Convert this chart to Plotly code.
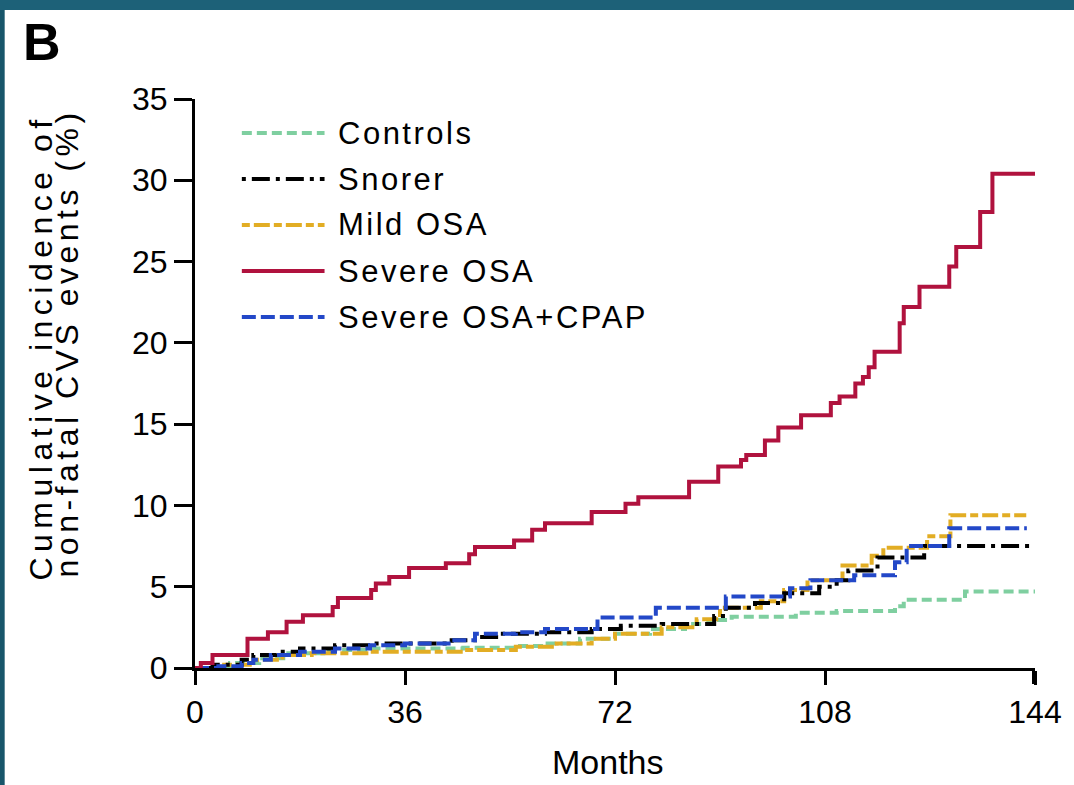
import plotly.graph_objects as go

# Cumulative incidence (%) step curves: event months and the level reached there
months_controls = [0, 6, 11, 16, 22, 30, 46, 55, 60, 66, 72, 78, 84, 88, 92, 103, 110, 120, 121.5, 132, 144]
cum_controls = [0, 0.3, 0.6, 0.9, 1.1, 1.2, 1.25, 1.35, 1.5, 1.8, 2.1, 2.4, 2.7, 2.95, 3.15, 3.4, 3.5, 3.8, 4.2, 4.7, 4.7]

months_snorer = [0, 3, 8, 10, 14, 18, 24, 30, 44, 48, 52, 60, 68, 73, 80, 89, 91, 96, 101, 107, 110, 112, 117, 125, 144]
cum_snorer = [0, 0.2, 0.5, 0.8, 1.0, 1.2, 1.4, 1.5, 1.7, 1.9, 2.1, 2.2, 2.4, 2.6, 2.7, 3.2, 3.7, 4.0, 4.6, 5.0, 5.4, 6.0, 6.8, 7.5, 7.5]

months_mild = [0, 5, 10, 15, 20, 30, 46, 55, 62, 68, 72, 80, 86, 90, 97, 101, 105, 111, 116, 118, 125.5, 129.5, 142.5]
cum_mild = [0, 0.2, 0.5, 0.8, 0.9, 1.0, 1.1, 1.3, 1.5, 1.8, 2.1, 2.5, 3.0, 3.7, 4.1, 4.8, 5.4, 6.3, 6.9, 7.4, 8.1, 9.4, 9.4]

months_severe = [0, 1, 3, 9, 12.5, 15.7, 18.5, 23.6, 24.5, 30.2, 31, 33.3, 36.7, 43, 47, 48, 54.7, 57.8, 60,
                 68, 73.8, 76, 84.7, 89.7, 93.6, 94.5, 97.7, 100, 103.9, 109, 110.5, 113.2, 114.5, 115.5,
                 116.5, 120.8, 121.5, 124.2, 129.3, 130.5, 134.6, 136.7, 144]
cum_severe = [0, 0.3, 0.8, 1.8, 2.2, 2.85, 3.25, 3.75, 4.3, 4.8, 5.2, 5.6, 6.15, 6.45, 7.0, 7.45, 7.85, 8.5, 8.9,
              9.6, 10.1, 10.5, 11.45, 12.4, 12.8, 13.1, 14.0, 14.8, 15.55, 16.3, 16.7, 17.5, 17.9, 18.5,
              19.45, 21.2, 22.2, 23.45, 24.7, 25.9, 28.05, 30.4, 30.4]

months_cpap = [0, 4, 8, 10, 13, 18, 24, 30, 36, 44, 48, 55, 60, 69, 79, 91, 102, 105.5, 113, 120, 122, 129.3, 142.6]
cum_cpap = [0, 0.1, 0.3, 0.5, 0.8, 1.0, 1.2, 1.4, 1.5, 1.7, 2.1, 2.2, 2.4, 3.1, 3.7, 4.4, 4.9, 5.4, 5.7, 6.5, 7.5, 8.6, 8.6]

x_ticks = [0, 36, 72, 108, 144]
y_ticks = [0, 5, 10, 15, 20, 25, 30, 35]

series = [
    ("Controls", months_controls, cum_controls, "#7fcfa0", "10px,5px"),
    ("Snorer", months_snorer, cum_snorer, "#000000", "4px,6px,18px,6px"),
    ("Mild OSA", months_mild, cum_mild, "#e2ad24", "8px,4px,16px,4px"),
    ("Severe OSA", months_severe, cum_severe, "#b0123e", "solid"),
    ("Severe OSA+CPAP", months_cpap, cum_cpap, "#2348c8", "14px,5px"),
]

FONT = "Liberation Sans, Arial, sans-serif"

# plot-area pixel geometry used to place decorations in paper coordinates
L, R, T, B = 195, 1038, 99, 668
def px_x(px):
    return (px - L) / (R - L)
def px_y(py):
    return (B - py) / (B - T)

def spaced(text, px):
    return f'<span style="letter-spacing:{px}px">{text}</span>'

fig = go.Figure()
draw_order = [0, 2, 1, 4, 3]
for i in draw_order:
    name, xs, ys, color, dash = series[i]
    fig.add_trace(go.Scatter(
        x=xs, y=ys, mode="lines", name=name, line_shape="hv",
        line=dict(color=color, width=4, dash=dash), showlegend=False,
    ))

shapes = []
annotations = []

# legend drawn as line samples plus labels
for i, (name, xs, ys, color, dash) in enumerate(series):
    yy = px_y(133 + 46 * i)
    shapes.append(dict(type="line", xref="paper", yref="paper",
                       x0=px_x(242), x1=px_x(325), y0=yy, y1=yy,
                       line=dict(color=color, width=4, dash=dash)))
    annotations.append(dict(text=spaced(name, 2.5), xref="paper", yref="paper",
                            x=px_x(337), y=yy, xanchor="left", yanchor="middle",
                            showarrow=False, font=dict(size=31, color="black", family=FONT)))

# frame bands
shapes.append(dict(type="rect", xref="paper", yref="paper", layer="above",
                   x0=-0.3, x1=1.1, y0=px_y(10), y1=px_y(-20),
                   fillcolor="#1d6178", line=dict(width=0)))
shapes.append(dict(type="rect", xref="paper", yref="paper", layer="above",
                   x0=-0.3, x1=px_x(4), y0=px_y(800), y1=px_y(10),
                   fillcolor="#18566a", line=dict(width=0)))

# thicker cap at the end of the x axis
shapes.append(dict(type="line", xref="x", yref="paper", x0=144, x1=144,
                   y0=px_y(668), y1=px_y(684), line=dict(color="black", width=6)))

# panel letter
annotations.append(dict(text="<b>B</b>", xref="paper", yref="paper",
                        x=px_x(20), y=px_y(42), xanchor="left", yanchor="middle",
                        showarrow=False, font=dict(size=52, color="black", family=FONT)))

# axis titles
annotations.append(dict(text="Months", xref="paper", yref="paper",
                        x=px_x(609), y=px_y(762), xanchor="center", yanchor="middle",
                        showarrow=False, font=dict(size=34, color="black", family=FONT)))
annotations.append(dict(text=spaced("Cumulative incidence of", 5.5), xref="paper", yref="paper",
                        x=px_x(40), y=px_y(348), xanchor="center", yanchor="middle",
                        textangle=-90, showarrow=False,
                        font=dict(size=32, color="black", family=FONT)))
annotations.append(dict(text=spaced("non-fatal CVS events (%)", 4.5), xref="paper", yref="paper",
                        x=px_x(67), y=px_y(343), xanchor="center", yanchor="middle",
                        textangle=-90, showarrow=False,
                        font=dict(size=32, color="black", family=FONT)))

fig.update_layout(
    width=1074, height=785, autosize=False,
    margin=dict(l=L, r=1074 - R, t=T, b=785 - B),
    paper_bgcolor="white", plot_bgcolor="white",
    font=dict(family=FONT, color="black"),
    shapes=shapes, annotations=annotations,
)
fig.update_xaxes(
    range=[0, 144], tickvals=x_ticks, ticks="outside", ticklen=14, tickwidth=3,
    tickcolor="black", showline=True, linewidth=3, linecolor="black",
    showgrid=False, zeroline=False, tickfont=dict(size=32, family=FONT, color="black"),
)
fig.update_yaxes(
    range=[0, 35], tickvals=y_ticks, ticks="outside", ticklen=18, tickwidth=3,
    tickcolor="black", showline=True, linewidth=3, linecolor="black",
    showgrid=False, zeroline=False, tickfont=dict(size=32, family=FONT, color="black"),
)

fig.write_html("out.html")
